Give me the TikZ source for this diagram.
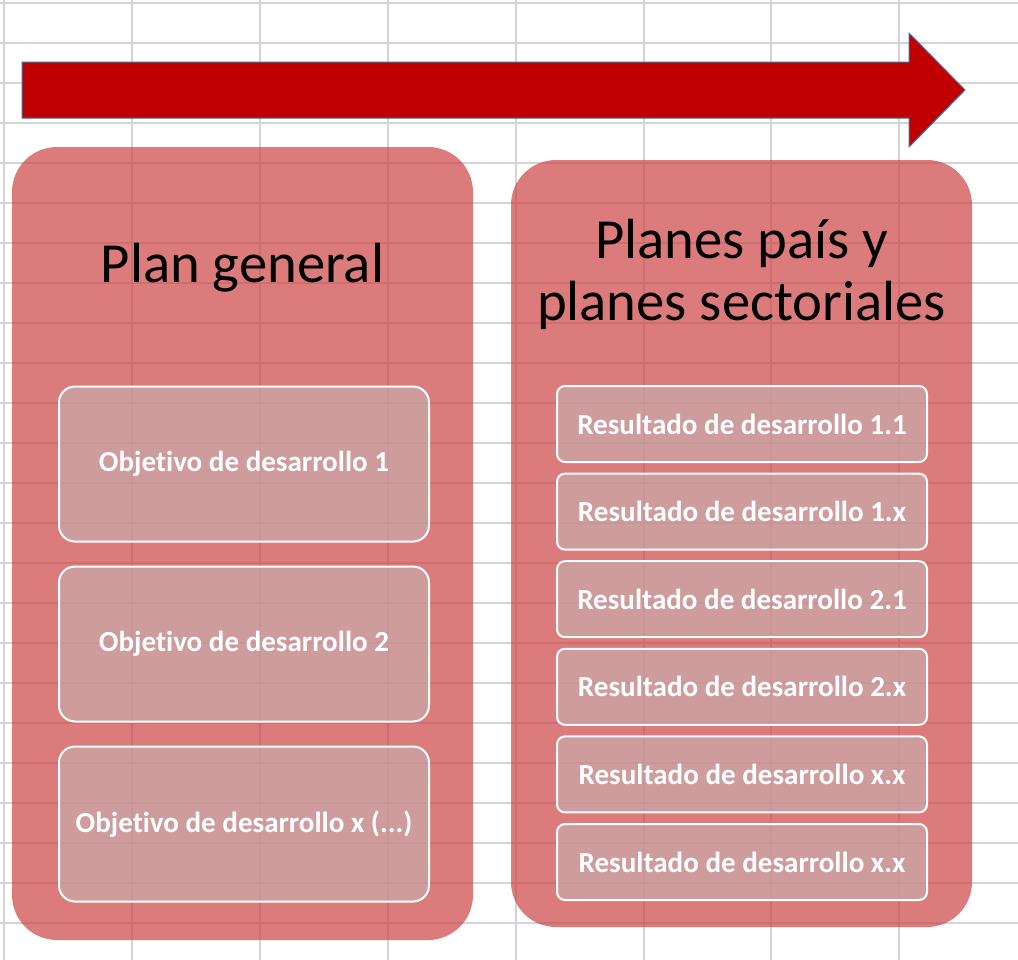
\documentclass[tikz,border=0pt]{standalone}
\usepackage{fontspec}
\setmainfont{Carlito}[Ligatures=NoCommon]
\usepackage{tikz}
\usetikzlibrary{positioning}

\definecolor{gridgray}{RGB}{212,212,212}
\definecolor{arrowred}{RGB}{192,0,0}
\definecolor{arrowedge}{RGB}{65,113,156}
\definecolor{panelred}{RGB}{206,68,68}
\definecolor{boxgray}{RGB}{193,190,190}

\begin{document}
\begin{tikzpicture}[x=0.75pt, y=-0.75pt,
        gridline/.style={gridgray, line width=1.5pt},
        bigarrow/.style={fill=arrowred, draw=arrowedge, line width=0.75pt, line join=miter},
        panel/.style={fill=panelred, fill opacity=0.7, text opacity=1, rounded corners=33.75pt,
            minimum width=345.75pt, inner sep=0pt, outer sep=0pt},
        paneltitle/.style={font=\fontsize{42.5}{46.5}\selectfont, align=center, text=black, inner sep=0pt},
        goalbox/.style={fill=boxgray, fill opacity=0.5, text opacity=1, draw=white, line width=1.5pt,
            rounded corners=12pt, minimum width=277.5pt, minimum height=116.25pt, inner sep=0pt, outer sep=0pt,
            text=white, font=\fontsize{21.8}{26}\selectfont\bfseries},
        resultbox/.style={goalbox, rounded corners=6pt, minimum height=57pt}]
        \useasboundingbox (0,0) rectangle (1018,960);
        \fill[white] (0,0) rectangle (1018,960);

        % spreadsheet grid
        \foreach \i in {0,...,23}
            \draw[gridline] (0,3+40*\i) -- (1018,3+40*\i);
        \foreach \j in {0,...,7}
            \draw[gridline] (4+127.9*\j,0) -- (4+127.9*\j,960);

        \draw[bigarrow] (22,62) -- (909,62) -- (909,33) -- (965,90) -- (909,147) -- (909,118) -- (22,118) -- cycle;

        \node[panel, minimum height=594.75pt] (plan) at (242.5,543.5) {};
        \node[panel, minimum height=575.25pt] (planes) at (741.5,543.5) {};

        \node[paneltitle, anchor=base] (plantitle) at (242.5,282) {Plan general};
        \node[paneltitle, anchor=base] (planestitle) at (741.5,320) {Planes país y\\planes sectoriales};

        \node[goalbox] (obj1) at (244,464) {Objetivo de desarrollo 1};
        \node[goalbox, below=18.75pt of obj1] (obj2) {Objetivo de desarrollo 2};
        \node[goalbox, below=18.75pt of obj2] (objx) {Objetivo de desarrollo x (...)};

        \node[resultbox] (res11) at (742,424) {Resultado de desarrollo 1.1};
        \node[resultbox, below=8.7pt of res11] (res1x) {Resultado de desarrollo 1.x};
        \node[resultbox, below=8.7pt of res1x] (res21) {Resultado de desarrollo 2.1};
        \node[resultbox, below=8.7pt of res21] (res2x) {Resultado de desarrollo 2.x};
        \node[resultbox, below=8.7pt of res2x] (resxx) {Resultado de desarrollo x.x};
        \node[resultbox, below=8.7pt of resxx] (resxy) {Resultado de desarrollo x.x};
    \end{tikzpicture}
\end{document}
